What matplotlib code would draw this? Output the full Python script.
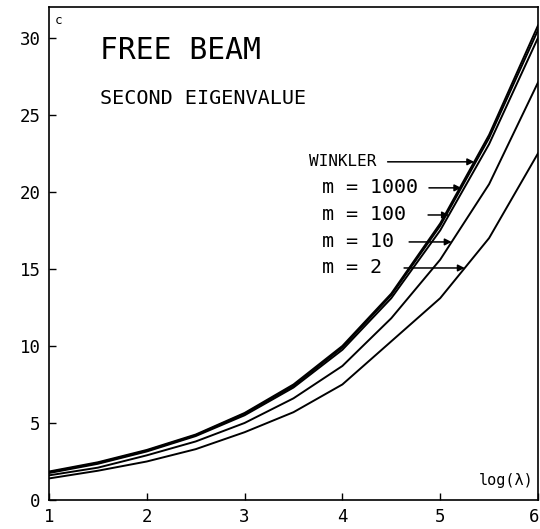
import numpy as np
import matplotlib
matplotlib.use("Agg")
import matplotlib.pyplot as plt
from matplotlib.transforms import ScaledTranslation

log_lam = [1.0, 1.5, 2.0, 2.5, 3.0, 3.5, 4.0, 4.5, 5.0, 5.5, 6.0]
winkler = [1.85, 2.45, 3.25, 4.25, 5.65, 7.5, 10.0, 13.4, 17.95, 23.7, 30.8]
m1000 = [1.8, 2.4, 3.2, 4.2, 5.6, 7.4, 9.9, 13.3, 17.8, 23.5, 30.5]
m100 = [1.75, 2.35, 3.15, 4.15, 5.5, 7.3, 9.75, 13.1, 17.5, 23.1, 30.0]
m10 = [1.6, 2.1, 2.9, 3.8, 5.0, 6.6, 8.7, 11.8, 15.6, 20.5, 27.1]
m2 = [1.4, 1.9, 2.5, 3.3, 4.4, 5.7, 7.5, 10.3, 13.1, 17.0, 22.5]

xticks = [1, 2, 3, 4, 5, 6]
yticks = [0, 5, 10, 15, 20, 25, 30]

labels = ["WINKLER", "m = 1000", "m = 100", "m = 10", "m = 2"]
label_y = [21.95, 20.26, 18.5, 16.75, 15.06]

plt.rcParams['font.family'] = ['DejaVu Sans Mono', 'DejaVu Sans']

fig = plt.figure(figsize=(5.4, 5.29), dpi=100)
ax = fig.add_axes([0.0907, 0.0548, 0.9056, 0.932])

curves = [winkler, m1000, m100, m10, m2]
for vals in curves:
    ax.plot(log_lam, vals, color='black', lw=1.4)

ax.set_xlim(1, 6)
ax.set_ylim(0, 32)
ax.set_xticks(xticks)
ax.set_yticks(yticks)
ax.tick_params(direction='in', length=5, width=1, labelsize=12.5, pad=6)
for s in ax.spines.values():
    s.set_linewidth(1.2)
# keep the last x tick label inside the figure
xl = ax.get_xticklabels()
xl[-1].set_transform(xl[-1].get_transform() + ScaledTranslation(-3/72, 0, fig.dpi_scale_trans))

# labels with horizontal arrows
text_x = [3.66, 3.79, 3.79, 3.79, 3.79]
sizes = [11.5, 14.4, 14.4, 14.4, 14.4]
shrinks = [6, 6, 14, 9, 14]
for name, vals, ty, tx, fs, sh in zip(labels, curves, label_y, text_x, sizes, shrinks):
    xt = np.interp(ty, vals, log_lam)
    ax.annotate(name, xy=(xt, ty), xycoords='data', xytext=(tx, ty),
                textcoords='data', fontsize=fs, va='center', ha='left',
                arrowprops=dict(arrowstyle='-|>', color='black', lw=1.1,
                                mutation_scale=10, shrinkA=sh, shrinkB=0))

ax.text(0.012, 0.985, "c", transform=ax.transAxes, fontsize=9, va='top', ha='left')
ax.text(0.104, 0.911, "FREE BEAM", transform=ax.transAxes, fontsize=21.3, va='center', ha='left')
ax.text(0.104, 0.815, "SECOND EIGENVALUE", transform=ax.transAxes, fontsize=14.5, va='center', ha='left')
ax.text(0.878, 0.04, "log(λ)", transform=ax.transAxes, fontsize=11, va='center', ha='left')

fig.savefig("out.png", dpi=100)
